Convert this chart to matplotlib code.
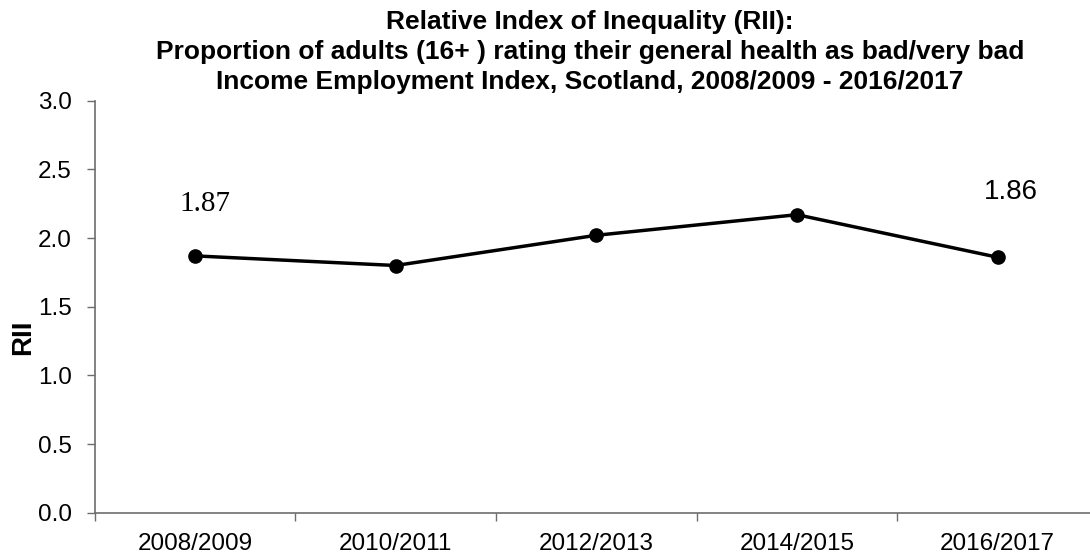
import matplotlib
matplotlib.use("Agg")
import matplotlib.pyplot as plt

# Survey periods and RII values
periods = ["2008/2009", "2010/2011", "2012/2013", "2014/2015", "2016/2017"]
rii = [1.87, 1.80, 2.02, 2.17, 1.86]

title_lines = [
    "Relative Index of Inequality (RII):",
    "Proportion of adults (16+ ) rating their general health as bad/very bad",
    "Income Employment Index, Scotland, 2008/2009 - 2016/2017",
]

plt.rcParams["font.family"] = ["Liberation Sans", "DejaVu Sans"]

W, H = 1090, 556
fig = plt.figure(figsize=(W / 100, H / 100), dpi=100)
left_px, right_px = 94.6, 1098.0
bottom_px, top_px = 512.7, 100.7
ax = fig.add_axes([left_px / W, (H - bottom_px) / H,
                   (right_px - left_px) / W, (bottom_px - top_px) / H])

x = list(range(len(periods)))
ax.plot(x, rii, color="black", lw=2.5, marker="o", ms=9.5, zorder=3,
        clip_on=False)

ax.set_xlim(-0.5, len(periods) - 0.5)
ax.set_ylim(0, 3.0)
ax.set_yticks([0.0, 0.5, 1.0, 1.5, 2.0, 2.5, 3.0])
ax.set_yticklabels([f"{v:.1f}" for v in ax.get_yticks()])

# category labels centred, tick marks on the category boundaries
ax.set_xticks(x)
ax.set_xticklabels(periods)
ax.tick_params(axis="x", which="major", length=0, pad=14.5, labelsize=17.5)
ax.set_xticks([i + 0.5 for i in range(-1, len(periods))], minor=True)
ax.tick_params(axis="x", which="minor", length=5.5, width=1, color="#6d6d6d")
ax.tick_params(axis="y", length=6, width=1, color="#6d6d6d", pad=10.5,
               labelsize=17.5)

for s in ["top", "right"]:
    ax.spines[s].set_visible(False)
for s in ["left", "bottom"]:
    ax.spines[s].set_color("#6d6d6d")
    ax.spines[s].set_linewidth(1.2)

fig.text(23 / W, 1 - 337 / H, "RII", rotation=90, ha="center", va="center",
         fontsize=20, fontweight="bold")

# end-point value labels
ax.annotate(f"{rii[0]:.2f}", (x[0], rii[0]), xytext=(10, 45),
            textcoords="offset pixels", ha="center", va="baseline",
            fontsize=21, family=["Liberation Serif", "DejaVu Serif"])
ax.annotate(f"{rii[-1]:.2f}", (x[-1], rii[-1]), xytext=(13, 58.5),
            textcoords="offset pixels", ha="center", va="baseline",
            fontsize=20)

for i, line in enumerate(title_lines):
    fig.text(590 / W, 1 - (29.3 + 30 * i) / H, line, ha="center",
             va="baseline", fontsize=19, fontweight="bold")

fig.savefig("out.png", dpi=100)
